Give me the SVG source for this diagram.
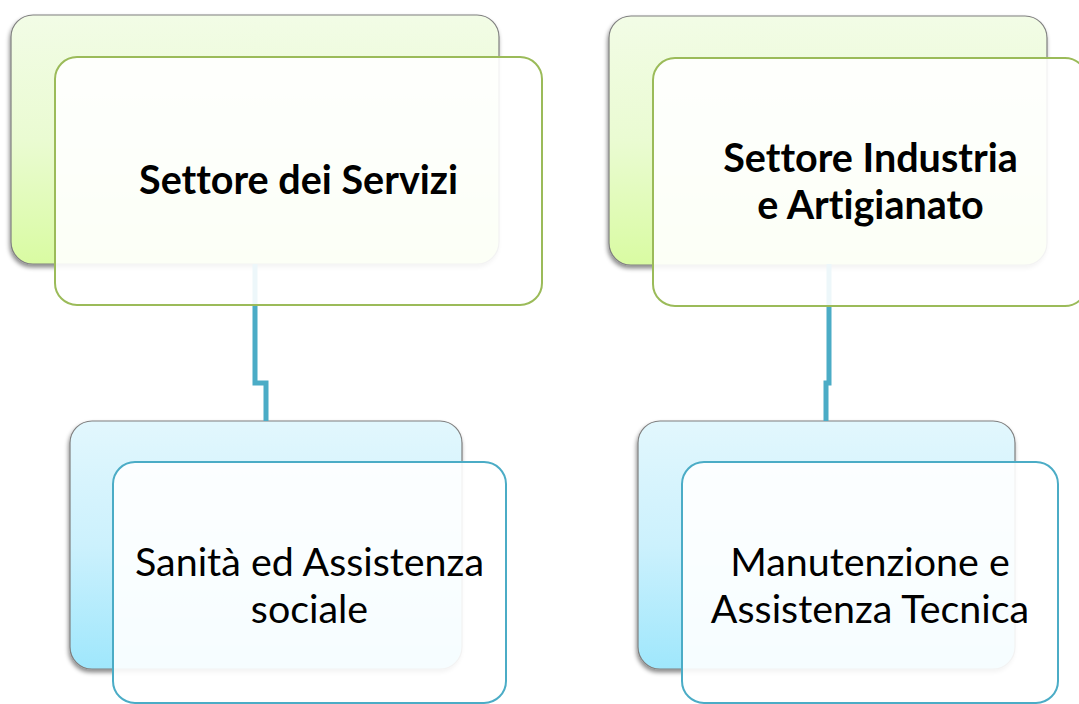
<svg xmlns="http://www.w3.org/2000/svg" width="1079" height="704" viewBox="0 0 1079 704">
<defs>
<linearGradient id="gGreen" x1="0" y1="0" x2="0" y2="1">
<stop offset="0" stop-color="#F2FCE6"/>
<stop offset="0.5" stop-color="#EAFBD2"/>
<stop offset="1" stop-color="#D9FBA2"/>
</linearGradient>
<linearGradient id="gBlue" x1="0" y1="0" x2="0" y2="1">
<stop offset="0" stop-color="#E2F7FD"/>
<stop offset="0.5" stop-color="#CCF1FD"/>
<stop offset="1" stop-color="#9FE7FC"/>
</linearGradient>
<filter id="sh" x="-10%" y="-10%" width="120%" height="125%">
<feDropShadow dx="-1" dy="3" stdDeviation="2" flood-color="#000" flood-opacity="0.45"/>
</filter>
<style>
.backG{fill:url(#gGreen);stroke:#7F7F7F;stroke-width:1.2;filter:url(#sh)}
.backB{fill:url(#gBlue);stroke:#7F7F7F;stroke-width:1.2;filter:url(#sh)}
.frontG{fill:#FFFFFF;fill-opacity:0.9;stroke:#9BBB59;stroke-width:2}
.frontB{fill:#FFFFFF;fill-opacity:0.9;stroke:#4BACC6;stroke-width:2}
.conn{fill:none;stroke:#4BACC6;stroke-width:5}
text{font-variant-ligatures:none;font-feature-settings:"liga" 0;fill:#000;text-anchor:middle;font-family:Lato,"Liberation Sans",sans-serif}
.tb{font-weight:bold;font-size:39.5px}
.tr{font-size:39.4px}
</style>
</defs>
<rect width="1079" height="704" fill="#FFFFFF"/>
<g id="back-rects">
<rect class="backG" x="11" y="15" width="488" height="249" rx="22"/>
<rect class="backG" x="609" y="16" width="438" height="249" rx="22"/>
<rect class="backB" x="70" y="421" width="392" height="248" rx="22"/>
<rect class="backB" x="638" y="421" width="377" height="248" rx="22"/>
</g>
<g id="connectors">
<path class="conn" d="M255,264 V383 H266 V421"/>
<path class="conn" d="M829,264 V383 H826 V421"/>
</g>
<g id="node-servizi">
<rect class="frontG" x="55" y="57" width="487" height="248" rx="22"/>
<text class="tb" x="298.5" y="194">Settore dei Servizi</text>
</g>
<g id="node-industria">
<rect class="frontG" x="653" y="58" width="434" height="248" rx="22"/>
<text class="tb" x="870.5" y="172">Settore Industria</text>
<text class="tb" x="870.5" y="219">e Artigianato</text>
</g>
<g id="node-sanita">
<rect class="frontB" x="113" y="462" width="393" height="241" rx="22"/>
<text class="tr" x="309.5" y="576">Sanità ed Assistenza</text>
<text class="tr" x="309.5" y="623">sociale</text>
</g>
<g id="node-manutenzione">
<rect class="frontB" x="682" y="462" width="376" height="241" rx="22"/>
<text class="tr" x="870" y="576">Manutenzione e</text>
<text class="tr" x="870" y="623">Assistenza Tecnica</text>
</g>
</svg>
